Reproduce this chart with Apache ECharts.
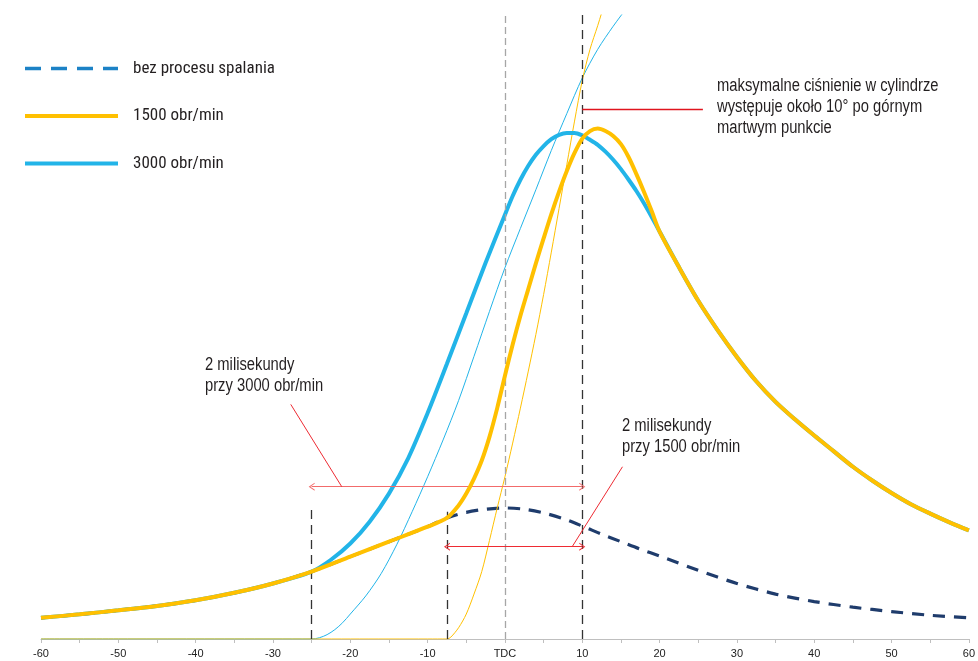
<!DOCTYPE html>
<html>
<head>
<meta charset="utf-8">
<script src="https://cdn.jsdelivr.net/npm/echarts@6/dist/echarts.min.js"></script>
<style>
html,body{margin:0;padding:0;background:#fff;}
#chart{width:978px;height:661px;}
</style>
</head>
<body>
<div id="chart"></div>
<script>
// ---- data (crank angle in degrees, pressure in arbitrary units) ----
const tickLabelTDC = 'TDC';
const seriesNames = ['bez procesu spalania', '1500 obr/min', '3000 obr/min'];

// compression stroke, common to all curves before ignition
const angleCompression = [-60, -55, -50, -45, -40, -35, -30, -25];
const pCompression     = [3.4, 3.95, 4.6, 5.3, 6.2, 7.4, 8.9, 10.8];

// motoring (no combustion) after -25°
const angleMotoring = [-20, -15, -10, -7.5, -5, -2.5, 0, 2.5, 5, 7.5, 10, 12.5, 15, 17.5, 20, 25, 30, 35, 40, 45, 50, 55, 60];
const pMotoring     = [13.2, 15.6, 18.0, 19.4, 20.3, 20.8, 21.0, 20.8, 20.2, 19.3, 18.1, 16.8, 15.6, 14.4, 13.3, 11.0, 8.9, 7.2, 6.0, 5.1, 4.4, 3.8, 3.4];

// 1500 rpm: follows motoring until ignition at -7.5°
const anglePre1500 = [-20, -15, -10, -7.5];
const pPre1500     = [13.2, 15.6, 18.0, 19.4];
const angle1500 = [-6, -5, -4, -3, -2, -1, 0, 1, 2, 3, 4, 5, 6, 7, 8, 9, 10, 11, 12, 13, 14, 15, 16, 17, 18, 19, 20];
const p1500     = [21.4, 23.3, 25.7, 28.6, 32.4, 37.0, 42.2, 47.2, 51.8, 56.0, 60.2, 64.2, 68.1, 71.7, 75.0, 77.9, 80.2, 81.4, 81.8, 81.4, 80.6, 79.3, 77.2, 74.5, 71.6, 68.5, 65.3];

// 3000 rpm: ignition at -25°
const angle3000 = [-22.5, -20, -17.5, -15, -12.5, -10, -7.5, -5, -2.5, 0, 1, 2, 3, 4, 5, 6, 7, 8, 9, 10, 11, 12, 13, 14, 15, 16, 17, 18, 19, 20];
const p3000     = [12.7, 15.3, 18.8, 23.3, 29.0, 36.2, 44.1, 52.2, 60.3, 68.0, 71.0, 73.6, 75.8, 77.6, 79.0, 80.1, 80.8, 81.1, 81.1, 80.7, 80.0, 79.2, 78.1, 76.8, 75.3, 73.6, 71.8, 69.8, 67.6, 65.3];

// expansion, common to both combustion curves
const angleExpansion = [22.5, 25, 27.5, 30, 32.5, 35, 37.5, 40, 42.5, 45, 47.5, 50, 52.5, 55, 57.5, 60];
const pExpansion     = [59.6, 54.2, 49.5, 45.2, 41.3, 38.0, 35.2, 32.6, 30.1, 27.6, 25.4, 23.4, 21.6, 20.1, 18.7, 17.4];

// heat release (thin lines)
const angleBurn3000 = [-60, -50, -40, -30, -25, -24, -23, -22, -21, -20, -18, -16, -14, -12, -10, -8, -6, -4, -2, 0, 2, 4, 6, 8, 10, 12, 14, 16, 18];
const burn3000      = [0, 0, 0, 0, 0, 0.2, 0.7, 1.5, 2.6, 4.0, 6.9, 10.5, 15.1, 20.4, 26.0, 31.9, 38.2, 45.3, 52.5, 59.5, 65.8, 72.0, 78.3, 84.2, 89.9, 94.5, 98.2, 101.5, 104.5];
const angleBurn1500 = [-60, -50, -40, -30, -20, -10, -7.5, -7, -6, -5, -4, -3, -2, -1, 0, 1, 2, 3, 4, 5, 6, 7, 8, 9, 10, 11, 12, 13, 14];
const burn1500      = [0, 0, 0, 0, 0, 0, 0, 0.3, 1.8, 4.0, 7.2, 10.8, 15.8, 21.0, 26.0, 31.4, 37.0, 42.8, 48.8, 55.2, 62.0, 69.0, 76.0, 83.0, 89.5, 94.5, 98.3, 102.3, 106.0];

// annotation anchors (data coordinates)
const ignition3000 = -25, ignition1500 = -7.5, tdc = 0, peakAngle = 10;
const arrow3000Y = 24.4, arrow1500Y = 14.8;
const guideTop3000 = 21.5, guideTop1500 = 20.4, plotTop = 100;
const leader3000 = [[-27.7, 37.6], [-21.1, 24.4]];
const leader1500 = [[8.7, 14.8], [15.2, 27.6]];
const leaderPeak = [[10, 84.9], [25.6, 84.9]];

// annotation texts
const note3000 = '2 milisekundy\nprzy 3000 obr/min';
const note1500 = '2 milisekundy\nprzy 1500 obr/min';
const notePeak = 'maksymalne ciśnienie w cylindrze\nwystępuje około 10° po górnym\nmartwym punkcie';

// ---- helpers ----
function pairs(xs, ys) { return xs.map((x, i) => [x, ys[i]]); }

const motoringData = pairs(angleCompression, pCompression).concat(pairs(angleMotoring, pMotoring));
const data1500 = pairs(angleCompression, pCompression).concat(pairs(anglePre1500, pPre1500), pairs(angle1500, p1500), pairs(angleExpansion, pExpansion));
const data3000 = pairs(angleCompression, pCompression).concat(pairs(angle3000, p3000), pairs(angleExpansion, pExpansion));

const NARROW = "'Liberation Sans', Arial, sans-serif";
const CONDENSED = "'Roboto Condensed', 'DejaVu Sans', sans-serif";
const YELLOW = '#ffc000', BLUE = '#22b4e8', NAVY = '#1f3c6c';
const TEXTC = '#231f20';
const chevron = 'path://M0,10 L5,0 L10,10 L8.6,10 L5,2.8 L1.4,10 Z';

function note(x, y, text) {
  return { type: 'text', x: x, y: y, scaleX: 0.82, silent: true,
    style: { text: text, x: 0, y: 0, font: '18px ' + NARROW, fill: TEXTC, lineHeight: 21, align: 'left', verticalAlign: 'top' } };
}

const chart = echarts.init(document.getElementById('chart'), null, { renderer: 'canvas' });
chart.setOption({
  animation: false,
  backgroundColor: '#fff',
  grid: { left: 41, right: 9, top: 15, bottom: 22, containLabel: false },
  legend: {
    orient: 'vertical', left: 23, top: 58.5, padding: 0, itemWidth: 93, itemHeight: 14, itemGap: 27.5,
    selectedMode: false,
    textStyle: { fontFamily: CONDENSED, fontSize: 17, color: TEXTC, lineHeight: 20, padding: [0, 0, 0, 10] },
    data: [
      { name: seriesNames[0], itemStyle: { opacity: 0 }, lineStyle: { color: '#1c82c6', type: [16, 10], width: 3.5 } },
      { name: seriesNames[1], itemStyle: { opacity: 0 }, lineStyle: { color: YELLOW, width: 4 } },
      { name: seriesNames[2], itemStyle: { opacity: 0 }, lineStyle: { color: BLUE, width: 4 } }
    ]
  },
  xAxis: {
    type: 'value', min: -60, max: 60, interval: 10,
    axisLine: { show: true, lineStyle: { color: '#bfbfbf', width: 1 } },
    axisTick: { show: true, length: 4, lineStyle: { color: '#bfbfbf' } },
    minorTick: { show: true, splitNumber: 2, length: 4, lineStyle: { color: '#bfbfbf' } },
    splitLine: { show: false },
    axisLabel: {
      margin: 9, fontSize: 11, color: '#222', fontFamily: "'Liberation Sans', Arial, sans-serif",
      formatter: v => (v === 0 ? tickLabelTDC : String(v))
    }
  },
  yAxis: { type: 'value', min: 0, max: plotTop, show: false, splitLine: { show: false } },
  series: [
    { name: seriesNames[0], type: 'line', data: motoringData, symbol: 'none', smooth: 0.3,
      itemStyle: { color: NAVY }, lineStyle: { color: NAVY, width: 3.2, type: [12, 9] }, z: 2 },
    { name: 'spalanie 3000', type: 'line', data: pairs(angleBurn3000, burn3000), symbol: 'none', smooth: 0.3,
      itemStyle: { color: BLUE }, lineStyle: { color: BLUE, width: 1 }, z: 3 },
    { name: 'spalanie 1500', type: 'line', data: pairs(angleBurn1500, burn1500), symbol: 'none', smooth: 0.3,
      itemStyle: { color: YELLOW }, lineStyle: { color: YELLOW, width: 1 }, z: 3 },
    { name: seriesNames[2], type: 'line', data: data3000, symbol: 'none', smooth: 0.3,
      itemStyle: { color: BLUE }, lineStyle: { color: BLUE, width: 4 }, z: 4 },
    { name: seriesNames[1], type: 'line', data: data1500, symbol: 'none', smooth: 0.3,
      itemStyle: { color: YELLOW }, lineStyle: { color: YELLOW, width: 4 }, z: 5 },
    {
      name: 'annotations', type: 'line', data: [], symbol: 'none', z: 6, silent: true,
      markLine: {
        silent: true, animation: false, symbol: ['none', 'none'], label: { show: false },
        emphasis: { disabled: true },
        data: [
          [{ coord: [tdc, 0], lineStyle: { color: '#a6a6a6', type: [7, 4], width: 1.3 } }, { coord: [tdc, plotTop] }],
          [{ coord: [peakAngle, 0], lineStyle: { color: '#333', type: [9, 6], width: 1.3 } }, { coord: [peakAngle, plotTop] }],
          [{ coord: [ignition3000, 0], lineStyle: { color: '#333', type: [9, 6], width: 1.3 } }, { coord: [ignition3000, guideTop3000] }],
          [{ coord: [ignition1500, 0], lineStyle: { color: '#333', type: [9, 6], width: 1.3 } }, { coord: [ignition1500, guideTop1500] }],
          [{ coord: [ignition3000, arrow3000Y], symbol: chevron, symbolSize: [8, 6], lineStyle: { color: '#f26b6b', type: 'solid', width: 1.2 } },
           { coord: [peakAngle, arrow3000Y], symbol: chevron, symbolSize: [8, 6] }],
          [{ coord: [ignition1500, arrow1500Y], symbol: chevron, symbolSize: [8, 6], lineStyle: { color: '#ee2b33', type: 'solid', width: 1.2 } },
           { coord: [peakAngle, arrow1500Y], symbol: chevron, symbolSize: [8, 6] }],
          [{ coord: leader3000[0], lineStyle: { color: '#ee2b33', type: 'solid', width: 1 } }, { coord: leader3000[1] }],
          [{ coord: leader1500[0], lineStyle: { color: '#ee2b33', type: 'solid', width: 1 } }, { coord: leader1500[1] }],
          [{ coord: leaderPeak[0], lineStyle: { color: '#e0141e', type: 'solid', width: 1.3 } }, { coord: leaderPeak[1] }]
        ]
      }
    }
  ],
  graphic: [
    note(205, 354.5, note3000),
    note(622, 415.5, note1500),
    note(717, 75.5, notePeak)
  ]
});
</script>
</body>
</html>
